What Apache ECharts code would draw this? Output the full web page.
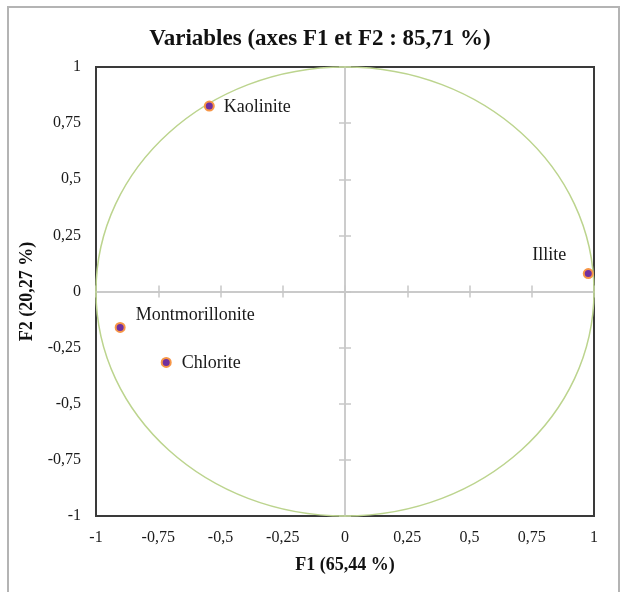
<!DOCTYPE html>
<html>
<head>
    <meta charset="utf-8">
    <title>Variables (axes F1 et F2)</title>
    <style>
        html, body { margin: 0; padding: 0; background: #fff; }
        #chart { width: 620px; height: 592px; }
    </style>
    <script src="https://cdn.jsdelivr.net/npm/echarts@6/dist/echarts.min.js"></script>
</head>
<body>
<div id="chart"></div>
<script>
    // coordonnees des variables sur F1 / F2
    var varNames = ['Kaolinite', 'Illite', 'Montmorillonite', 'Chlorite'];
    var f1 = [-0.545, 0.977, -0.903, -0.718];
    var f2 = [0.826, 0.08, -0.16, -0.316];
    // cercle des correlations (centre x, centre y, rayon)
    var circle = [[0, 0, 1]];

    var serif = '"Liberation Serif", "DejaVu Serif", serif';
    var labelPos = {
        'Kaolinite': { position: 'right', offset: [4, 1] },
        'Illite': { position: 'top', offset: [-39, 1] },
        'Montmorillonite': { position: 'right', offset: [5, -12] },
        'Chlorite': { position: 'right', offset: [5, 1] }
    };

    var points = varNames.map(function (n, i) {
        return { name: n, value: [f1[i], f2[i]], label: labelPos[n] };
    });

    function fmt(v) { return String(v).replace('.', ','); }

    function baseAxis(extra) {
        var a = {
            type: 'value', min: -1, max: 1, interval: 0.25,
            splitLine: { show: false },
            axisLine: { show: false },
            axisTick: { show: false },
            axisLabel: { show: false }
        };
        for (var k in extra) a[k] = extra[k];
        return a;
    }

    var zeroLine = { show: true, onZero: true, lineStyle: { color: '#c8c8c8', width: 1.5 } };
    var tickStyle = { color: '#c8c8c8', width: 1.5 };

    var chart = echarts.init(document.getElementById('chart'));
    chart.setOption({
        animation: false,
        graphic: [
            { type: 'rect', shape: { x: 8, y: 7, width: 611, height: 600 },
              style: { fill: 'none', stroke: '#b4b4b4', lineWidth: 2 }, silent: true },
            { type: 'text', x: 320, y: 39,
              style: { text: 'Variables (axes F1 et F2 : 85,71 %)', font: 'bold 23px ' + serif,
                       fill: '#111', textAlign: 'center', textVerticalAlign: 'middle' } }
        ],
        grid: { left: 96, right: 26, top: 67, bottom: 76, show: true, borderColor: '#3a3a3a', borderWidth: 2 },
        xAxis: [
            baseAxis({
                position: 'bottom',
                name: 'F1 (65,44 %)', nameLocation: 'middle', nameGap: 40,
                nameTextStyle: { fontFamily: serif, fontWeight: 'bold', fontSize: 18, color: '#111' },
                axisLabel: { show: true, formatter: fmt, margin: 14, fontFamily: serif, fontSize: 16, color: '#1a1a1a' }
            }),
            baseAxis({ position: 'bottom', axisLine: zeroLine,
                       axisTick: { show: true, inside: true, length: 6, lineStyle: tickStyle } }),
            baseAxis({ position: 'bottom', axisLine: zeroLine,
                       axisTick: { show: true, inside: false, length: 6, lineStyle: tickStyle } })
        ],
        yAxis: [
            baseAxis({
                position: 'left',
                name: 'F2 (20,27 %)', nameLocation: 'middle', nameGap: 59,
                nameTextStyle: { fontFamily: serif, fontWeight: 'bold', fontSize: 18, color: '#111' },
                axisLabel: { show: true, formatter: fmt, margin: 15, fontFamily: serif, fontSize: 16, color: '#1a1a1a' }
            }),
            baseAxis({ position: 'left', axisLine: zeroLine,
                       axisTick: { show: true, inside: true, length: 6, lineStyle: tickStyle } }),
            baseAxis({ position: 'left', axisLine: zeroLine,
                       axisTick: { show: true, inside: false, length: 6, lineStyle: tickStyle } })
        ],
        series: [
            {
                type: 'custom',
                data: circle,
                silent: true,
                clip: false,
                renderItem: function (params, api) {
                    var c = api.coord([api.value(0), api.value(1)]);
                    var s = api.size([api.value(2), api.value(2)]);
                    return {
                        type: 'ellipse',
                        shape: { cx: c[0], cy: c[1], rx: s[0], ry: s[1] },
                        style: { fill: 'none', stroke: '#bcd48e', lineWidth: 1.5 }
                    };
                }
            },
            {
                type: 'scatter',
                data: points,
                symbolSize: 9,
                itemStyle: { color: '#7030a0', borderColor: '#f79646', borderWidth: 2, opacity: 1 },
                label: {
                    show: true, formatter: '{b}', distance: 5,
                    fontFamily: serif, fontSize: 18, color: '#1a1a1a'
                }
            }
        ]
    });
</script>
</body>
</html>
